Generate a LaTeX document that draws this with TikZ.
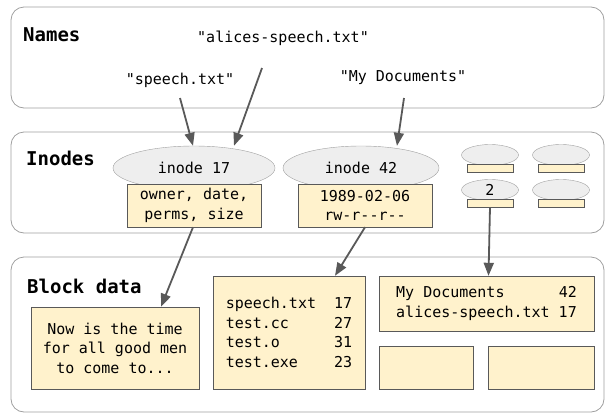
\documentclass[tikz,border=0pt]{standalone}
\usepackage{fontspec}
\setmonofont{DejaVu Sans Mono}
\usetikzlibrary{arrows.meta,shapes.geometric}
\definecolor{panelgray}{HTML}{A0A0A0}
\definecolor{inodegray}{HTML}{EEEEEE}
\definecolor{metayellow}{HTML}{FFF2CC}
\definecolor{linkgray}{HTML}{595959}
\begin{document}
\begin{tikzpicture} [x=1pt, y=-1pt,
        panel/.style={draw=panelgray, line width=0.8pt, rounded corners=13pt},
        heading/.style={font=\ttfamily\fontsize{19}{23}\selectfont\bfseries, anchor=west, inner sep=0pt},
        fname/.style={font=\ttfamily\fontsize{15}{19.5}\selectfont, inner sep=0pt},
        inode/.style={draw=panelgray, ellipse, fill=inodegray, inner sep=0pt, font=\ttfamily\fontsize{15}{19.5}\selectfont},
        meta/.style={draw=linkgray, rectangle, fill=metayellow, align=center, inner sep=0pt, font=\ttfamily\fontsize{15}{19.5}\selectfont},
        link/.style={draw=linkgray, line width=1.8pt, -{Triangle[length=13pt,width=10pt]}} ]
    \useasboundingbox (0,0) rectangle (605,413);
    \draw[panel] (11,7) rectangle (604,108);
    \draw[panel] (11,132) rectangle (604,233);
    \draw[panel] (11,257) rectangle (604,412);
    \node[heading] (tnames) at (23,35) {Names};
    \node[heading] (tinodes) at (26,158) {Inodes};
    \node[heading] (tblocks) at (27,286) {Block data};
    \node[fname] (nalices) at (283,38) {"alices-speech.txt"};
    \node[fname] (nspeech) at (180,80) {"speech.txt"};
    \node[fname] (ndocs) at (403,78) {"My Documents"};
    \node[inode, minimum width=162pt, minimum height=44pt] (i17) at (194,168) {inode 17};
    \node[meta, minimum width=134pt, minimum height=43pt] (m17) at (194,205.5) {owner, date,\\perms, size};
    \node[inode, minimum width=156pt, minimum height=44pt] (i42) at (361,168) {inode 42};
    \node[meta, minimum width=134pt, minimum height=43pt] (m42) at (365,205.5) {1989-02-06\\rw-r--r--};
    \foreach \x/\y [count=\i] in {490/155, 561/155, 561/190} {
        \node[inode, minimum width=57pt, minimum height=21pt] (s\i) at (\x,\y) {};
        \node[meta, minimum width=46pt, minimum height=8pt] (r\i) at (\x,\y+13) {};
    }
    \node[inode, minimum width=57pt, minimum height=21pt] (i2) at (490,190) {2};
    \node[meta, minimum width=46pt, minimum height=8pt] (m2) at (490,203) {};
    \node[meta, minimum width=168pt, minimum height=82pt] (b1) at (115,348) {Now is the time\\for all good men\\to come to...};
    \node[meta, align=left, minimum width=152pt, minimum height=113pt] (b2) at (289,332.5) {speech.txt~~17\\test.cc~~~~~27\\test.o~~~~~~31\\test.exe~~~~23};
    \node[meta, align=left, minimum width=215pt, minimum height=55pt] (b3) at (486.5,303.5) {My Documents~~~~~~42\\alices-speech.txt~17};
    \node[meta, minimum width=94pt, minimum height=43pt] (b4) at (426,367.5) {};
    \node[meta, minimum width=106pt, minimum height=43pt] (b5) at (541,367.5) {};
    \draw[link] ([shift={(0pt,-18pt)}]nspeech.center) -- ([xshift=-1pt]i17.north);
    \draw[link] ([shift={(-21pt,-30pt)}]nalices.center) -- ([xshift=40pt]i17.north);
    \draw[link] ([shift={(1pt,-20pt)}]ndocs.center) -- ([xshift=36pt]i42.north);
    \draw[link] ([xshift=-1pt]m17.south) -- ([xshift=46pt]b1.north);
    \draw[link] (m42.south) -- ([xshift=46pt]b2.north);
    \draw[link] (m2.south) -- ([xshift=2pt]b3.north);
\end{tikzpicture}
\end{document}
